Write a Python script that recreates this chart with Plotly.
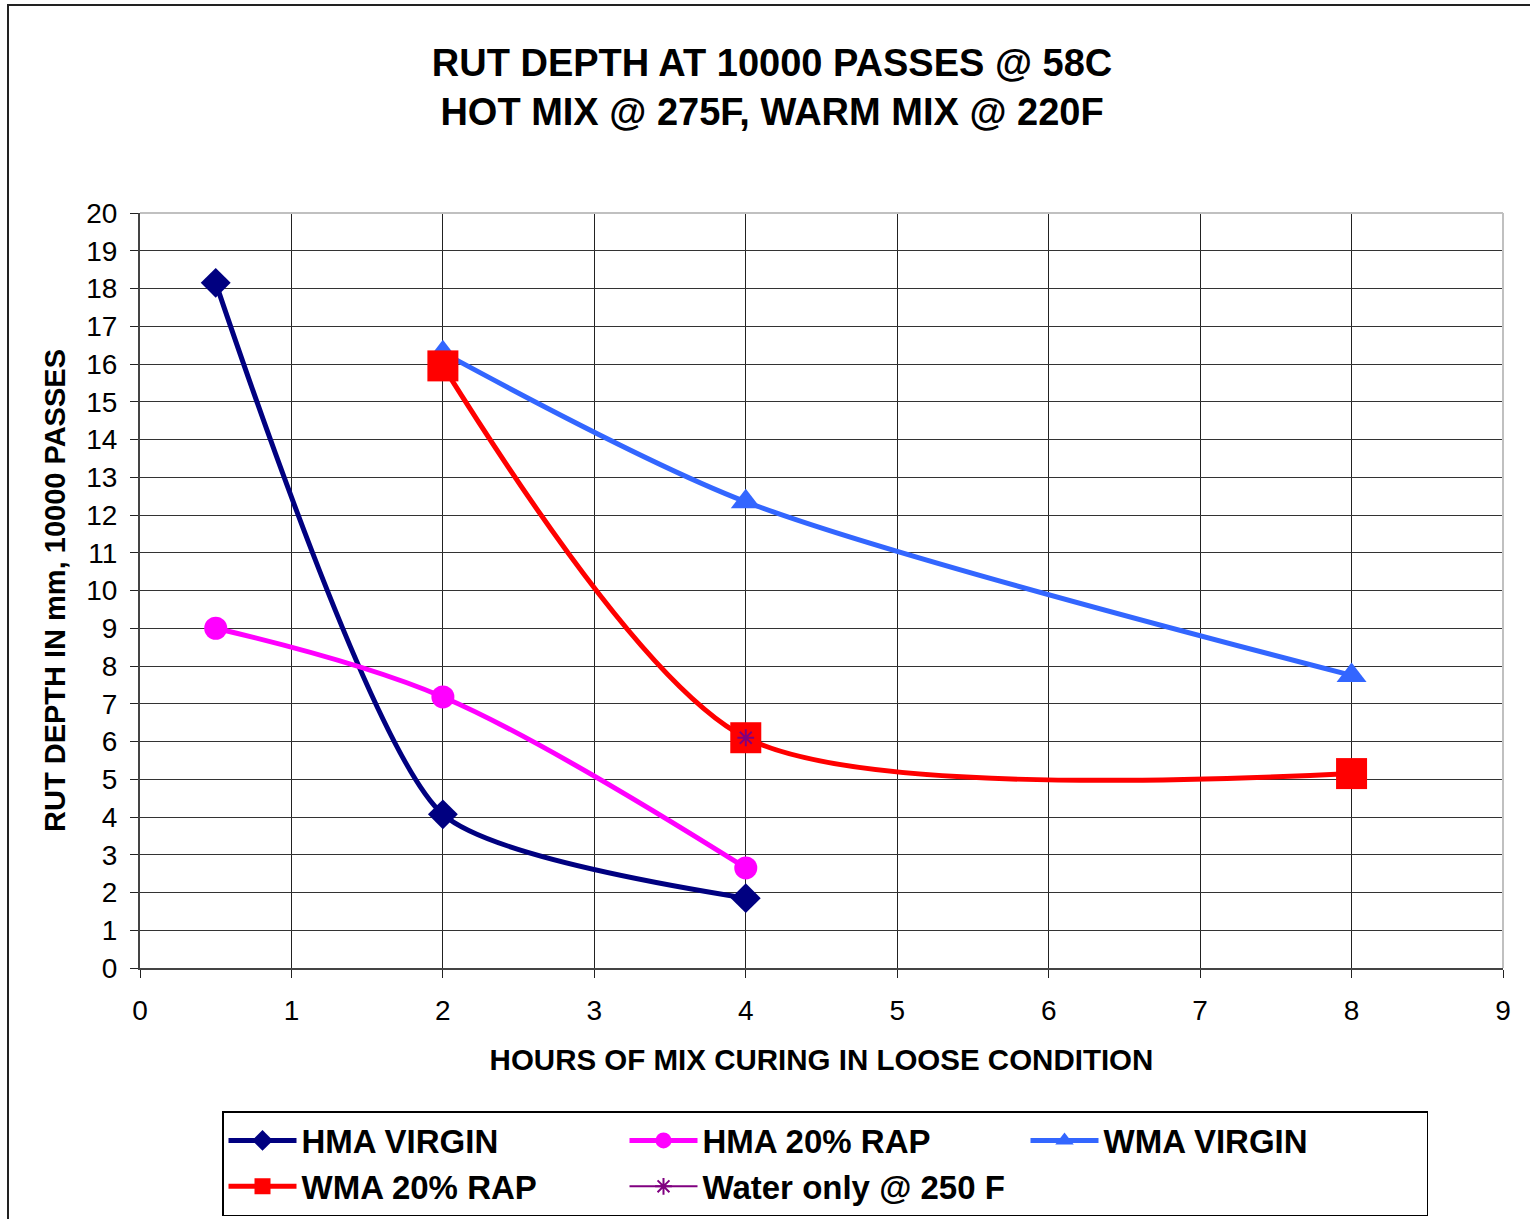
import plotly.graph_objects as go

# ---- data ----
hma_virgin_x = [0.5, 2, 4]
hma_virgin_y = [18.15, 4.07, 1.85]

hma_rap_x = [0.5, 2, 4]
hma_rap_y = [9.0, 7.18, 2.65]

wma_virgin_x = [2, 4, 8]
wma_virgin_y = [16.3, 12.35, 7.75]

wma_rap_x = [2, 4, 8]
wma_rap_y = [15.95, 6.1, 5.15]

water_x = [4]
water_y = [6.1]

x_ticks = list(range(0, 10))
y_ticks = list(range(0, 21))

FONT = "Liberation Sans, Arial, sans-serif"

fig = go.Figure()

fig.add_trace(go.Scatter(
    x=hma_virgin_x, y=hma_virgin_y, name="HMA VIRGIN", mode="lines+markers",
    line=dict(color="#000080", width=5, shape="spline", smoothing=0.6),
    marker=dict(symbol="diamond", size=23, color="#000080")))
fig.add_trace(go.Scatter(
    x=hma_rap_x, y=hma_rap_y, name="HMA 20% RAP", mode="lines+markers",
    line=dict(color="#FF00FF", width=5, shape="spline", smoothing=1.0),
    marker=dict(symbol="circle", size=23, color="#FF00FF")))
fig.add_trace(go.Scatter(
    x=wma_virgin_x, y=wma_virgin_y, name="WMA VIRGIN", mode="lines+markers",
    line=dict(color="#3366FF", width=5, shape="spline", smoothing=0.8),
    marker=dict(symbol="triangle-up", size=26, color="#3366FF")))
fig.add_trace(go.Scatter(
    x=wma_rap_x, y=wma_rap_y, name="WMA 20% RAP", mode="lines+markers",
    line=dict(color="#FF0000", width=5, shape="spline", smoothing=0.75),
    marker=dict(symbol="square", size=31, color="#FF0000")))
fig.add_trace(go.Scatter(
    x=water_x, y=water_y, name="Water only @ 250 F", mode="lines+markers",
    line=dict(color="#800080", width=2),
    marker=dict(symbol="asterisk-open", size=14, color="#800080",
                line=dict(color="#800080", width=2))))

# light grey top/right edges of the plot area
fig.add_shape(type="line", xref="paper", yref="paper", x0=0, x1=1, y0=1, y1=1,
              line=dict(color="#c0c0c0", width=2), layer="above")
fig.add_shape(type="line", xref="paper", yref="paper", x0=1, x1=1, y0=0, y1=1,
              line=dict(color="#c0c0c0", width=2), layer="above")
# outer chart border
fig.add_shape(type="rect", xref="paper", yref="paper",
              x0=(8 - 140) / 1363, x1=(1560 - 140) / 1363,
              y0=(968 - 1260) / 755, y1=(968 - 5) / 755,
              line=dict(color="#222222", width=2), layer="below")

fig.update_layout(
    width=1530, height=1219,
    margin=dict(l=140, r=27, t=213, b=251),
    paper_bgcolor="white", plot_bgcolor="white",
    font=dict(family=FONT, color="black"),
    title=dict(
        text="RUT DEPTH AT 10000 PASSES @ 58C<br>HOT MIX @ 275F, WARM MIX @ 220F",
        font=dict(size=38, weight="bold", family=FONT, color="black"),
        x=772 / 1530, xanchor="center", xref="container",
        y=1 - 76 / 1219, yanchor="top", yref="container"),
    xaxis=dict(
        range=[0, 9], tickvals=x_ticks, ticktext=[str(v) for v in x_ticks],
        showgrid=True, gridcolor="#222222", gridwidth=1,
        showline=True, linecolor="#444444", linewidth=2,
        ticks="outside", ticklen=8, tickcolor="#222222", ticklabelstandoff=8,
        tickfont=dict(size=28, family=FONT), zeroline=False,
        title=dict(text="HOURS OF MIX CURING IN LOOSE CONDITION",
                   font=dict(size=29.5, weight="bold", family=FONT), standoff=25)),
    yaxis=dict(
        range=[0, 20], tickvals=y_ticks, ticktext=[str(v) for v in y_ticks],
        showgrid=True, gridcolor="#333333", gridwidth=1,
        showline=True, linecolor="#444444", linewidth=2,
        ticks="outside", ticklen=8, tickcolor="#222222", ticklabelstandoff=7,
        tickfont=dict(size=28, family=FONT), zeroline=False,
        title=dict(text="RUT DEPTH IN mm, 10000 PASSES",
                   font=dict(size=29, weight="bold", family=FONT), standoff=12)),
    legend=dict(
        orientation="h", x=(222 - 140) / 1363, xanchor="left", xref="paper",
        y=1 - 1111 / 1219, yanchor="top", yref="container",
        bordercolor="black", borderwidth=1.5, bgcolor="white",
        font=dict(size=33, weight="bold", family=FONT, color="black"),
        entrywidth=318, entrywidthmode="pixels", itemwidth=68,
        traceorder="normal", itemclick=False),
    showlegend=True,
)

fig.write_html("out.html", config={"displayModeBar": False},
               post_script="document.body.style.margin='0px';")
